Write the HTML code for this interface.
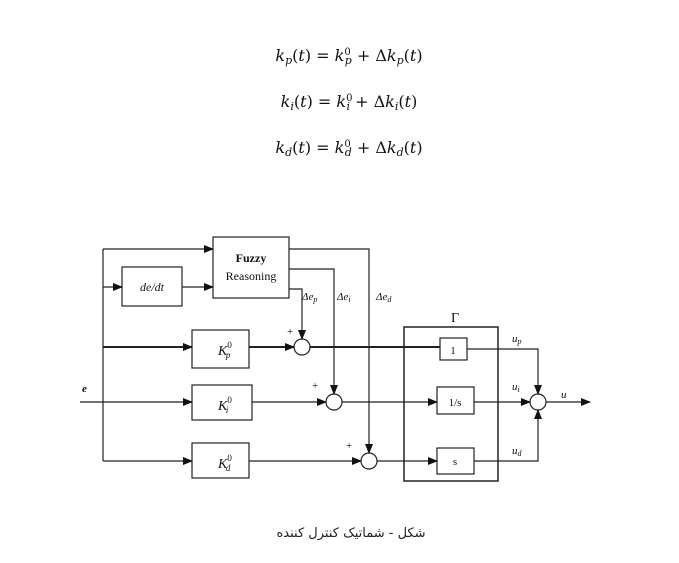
<!DOCTYPE html>
<html><head><meta charset="utf-8"><style>
html,body{margin:0;padding:0;background:#fff;}
svg{display:block;}
</style></head><body>
<svg width="679" height="563" viewBox="0 0 679 563" xmlns="http://www.w3.org/2000/svg">
<defs>
<marker id="a" markerWidth="10" markerHeight="8" refX="9" refY="4" orient="auto" markerUnits="userSpaceOnUse">
<path d="M0,0 L10,4 L0,8 z" fill="#111"/></marker>
</defs>
<g font-family="'DejaVu Serif','Liberation Serif',serif" font-style="italic" font-size="16" fill="#111" text-anchor="middle">
<text x="349" y="61">k<tspan font-size="11" dy="3">p</tspan><tspan dy="-3" font-style="normal">(</tspan>t<tspan font-style="normal">) = </tspan>k<tspan font-size="10" font-style="normal" dy="-6">0</tspan><tspan font-size="11" dx="-6" dy="9">p</tspan><tspan dy="-3" font-style="normal"> + Δ</tspan>k<tspan font-size="11" dy="3">p</tspan><tspan dy="-3" font-style="normal">(</tspan>t<tspan font-style="normal">)</tspan></text>
<text x="349" y="107">k<tspan font-size="11" dy="3">i</tspan><tspan dy="-3" font-style="normal">(</tspan>t<tspan font-style="normal">) = </tspan>k<tspan font-size="10" font-style="normal" dy="-6">0</tspan><tspan font-size="11" dx="-6" dy="9">i</tspan><tspan dy="-3" font-style="normal"> + Δ</tspan>k<tspan font-size="11" dy="3">i</tspan><tspan dy="-3" font-style="normal">(</tspan>t<tspan font-style="normal">)</tspan></text>
<text x="349" y="153">k<tspan font-size="11" dy="3">d</tspan><tspan dy="-3" font-style="normal">(</tspan>t<tspan font-style="normal">) = </tspan>k<tspan font-size="10" font-style="normal" dy="-6">0</tspan><tspan font-size="11" dx="-6" dy="9">d</tspan><tspan dy="-3" font-style="normal"> + Δ</tspan>k<tspan font-size="11" dy="3">d</tspan><tspan dy="-3" font-style="normal">(</tspan>t<tspan font-style="normal">)</tspan></text>
</g>
<g stroke="#222" stroke-width="1.2" fill="none">
<rect x="213" y="237" width="76" height="61"/>
<rect x="122" y="267" width="60" height="39"/>
<rect x="192" y="330" width="57" height="38"/>
<rect x="192" y="385" width="60" height="35"/>
<rect x="192" y="443" width="57" height="35"/>
<rect x="404" y="327" width="94" height="154" stroke-width="1.5"/>
<rect x="440" y="338" width="27" height="22"/>
<rect x="437" y="387" width="37" height="27"/>
<rect x="437" y="448" width="37" height="26"/>
<circle cx="302" cy="347" r="8" fill="#fff"/>
<circle cx="334" cy="402" r="8" fill="#fff"/>
<circle cx="369" cy="461" r="8" fill="#fff"/>
<circle cx="538" cy="402" r="8" fill="#fff"/>
<line x1="103" y1="249" x2="103" y2="461"/>
<line x1="103" y1="249" x2="213" y2="249" marker-end="url(#a)"/>
<line x1="103" y1="287" x2="122" y2="287" marker-end="url(#a)"/>
<line x1="182" y1="287" x2="213" y2="287" marker-end="url(#a)"/>
<line x1="103" y1="347" x2="192" y2="347" stroke-width="2" marker-end="url(#a)"/>
<line x1="80" y1="402" x2="192" y2="402" marker-end="url(#a)"/>
<line x1="103" y1="461" x2="192" y2="461" marker-end="url(#a)"/>
<line x1="249" y1="347" x2="294" y2="347" stroke-width="2" marker-end="url(#a)"/>
<line x1="252" y1="402" x2="326" y2="402" marker-end="url(#a)"/>
<line x1="249" y1="461" x2="361" y2="461" marker-end="url(#a)"/>
<polyline points="289,289 302,289 302,339" marker-end="url(#a)"/>
<polyline points="289,269 334,269 334,394" marker-end="url(#a)"/>
<polyline points="289,249 369,249 369,453" marker-end="url(#a)"/>
<line x1="310" y1="347" x2="440" y2="347" stroke-width="2"/>
<line x1="342" y1="402" x2="437" y2="402" marker-end="url(#a)"/>
<line x1="377" y1="461" x2="437" y2="461" marker-end="url(#a)"/>
<polyline points="467,349 538,349 538,394" marker-end="url(#a)"/>
<line x1="474" y1="402" x2="530" y2="402" marker-end="url(#a)"/>
<polyline points="474,461 538,461 538,410" marker-end="url(#a)"/>
<line x1="546" y1="402" x2="590" y2="402" marker-end="url(#a)"/>
</g>
<g font-family="'Liberation Serif',serif" fill="#111">
<text x="251" y="262" font-size="12" font-weight="bold" text-anchor="middle">Fuzzy</text>
<text x="251" y="280" font-size="12" text-anchor="middle">Reasoning</text>
<text x="152" y="291" font-size="12" font-style="italic" text-anchor="middle">de/dt</text>
<text x="218" y="355" font-size="14" font-style="italic">K<tspan font-size="9" font-style="normal" dy="-7">0</tspan><tspan font-size="9" dx="-6" dy="10">p</tspan></text>
<text x="218" y="410" font-size="14" font-style="italic">K<tspan font-size="9" font-style="normal" dy="-7">0</tspan><tspan font-size="9" dx="-6" dy="10">i</tspan></text>
<text x="218" y="468" font-size="14" font-style="italic">K<tspan font-size="9" font-style="normal" dy="-7">0</tspan><tspan font-size="9" dx="-6" dy="10">d</tspan></text>
<text x="453" y="354" font-size="11" text-anchor="middle">1</text>
<text x="455" y="406" font-size="11" text-anchor="middle">1/s</text>
<text x="455" y="465" font-size="11" text-anchor="middle">s</text>
<text x="455" y="322" font-size="14" text-anchor="middle">Γ</text>
<g font-size="11" font-style="italic">
<text x="302" y="300">Δe<tspan font-size="8" dy="2">p</tspan></text>
<text x="337" y="300">Δe<tspan font-size="8" dy="2">i</tspan></text>
<text x="376" y="300">Δe<tspan font-size="8" dy="2">d</tspan></text>
<text x="512" y="342">u<tspan font-size="8" dy="2">p</tspan></text>
<text x="512" y="390">u<tspan font-size="8" dy="2">i</tspan></text>
<text x="512" y="454">u<tspan font-size="8" dy="2">d</tspan></text>
<text x="561" y="398">u</text>
<text x="82" y="392" font-weight="bold">e</text>
<text x="287" y="335" font-style="normal">+</text>
<text x="312" y="389" font-style="normal">+</text>
<text x="346" y="449" font-style="normal">+</text>
</g>
</g>
<text x="351" y="537" font-family="'DejaVu Sans',sans-serif" font-size="13" fill="#222" text-anchor="middle" direction="rtl">شکل - شماتیک کنترل کننده</text>
</svg>
</body></html>
